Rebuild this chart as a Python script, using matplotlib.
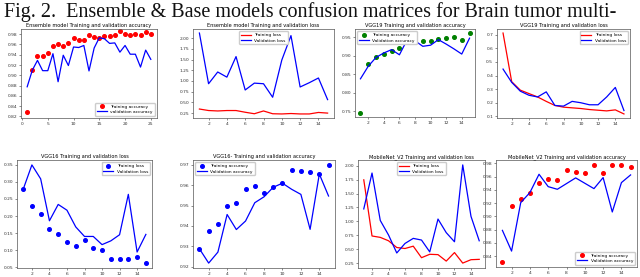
import numpy as np
import matplotlib
matplotlib.use("Agg")
import matplotlib.pyplot as plt

W, H = 640, 277

# ---------------- data ----------------
ens_train_acc = [0.8285, 0.9105, 0.938, 0.937, 0.943, 0.956, 0.961, 0.956, 0.963, 0.973,
                 0.968, 0.968, 0.979, 0.974, 0.973, 0.977, 0.977, 0.979, 0.986, 0.981,
                 0.979, 0.981, 0.979, 0.985, 0.981]
ens_val_acc = [0.8777, 0.910, 0.929, 0.909, 0.909, 0.942, 0.8875, 0.939, 0.919, 0.955,
               0.954, 0.958, 0.9085, 0.953, 0.973, 0.971, 0.962, 0.963, 0.945, 0.958,
               0.941, 0.941, 0.916, 0.949, 0.931]

ens_train_loss = [0.345, 0.31, 0.30, 0.31, 0.31, 0.27, 0.235, 0.30, 0.235, 0.23,
                  0.24, 0.23, 0.23, 0.265, 0.25]
ens_val_loss = [2.12, 0.936, 1.21, 1.09, 1.57, 0.79, 0.95, 0.936, 0.62, 1.49,
                2.06, 0.86, 0.96, 1.07, 0.565]

vgg19_train_acc = [0.7455, 0.879, 0.897, 0.905, 0.914, 0.921, 0.9365, 0.939, 0.939, 0.941,
                   0.9445, 0.948, 0.950, 0.944, 0.962]
vgg19_val_acc = [0.838, 0.872, 0.896, 0.908, 0.917, 0.903, 0.944, 0.941, 0.926, 0.929,
                 0.944, 0.932, 0.919, 0.905, 0.948]

vgg19_train_loss = [0.7125, 0.355, 0.2925, 0.2675, 0.2425, 0.21, 0.18, 0.1675, 0.1625, 0.1575,
                    0.15, 0.145, 0.14, 0.1475, 0.1175]
vgg19_val_loss = [0.4475, 0.35, 0.285, 0.255, 0.2425, 0.28, 0.18, 0.175, 0.21, 0.20,
                  0.185, 0.185, 0.2425, 0.3125, 0.1425]

vgg16_train_loss = [0.2784, 0.229, 0.2045, 0.163, 0.148, 0.124, 0.112, 0.131, 0.107, 0.101,
                    0.0746, 0.0746, 0.0726, 0.0795, 0.0618]
vgg16_val_loss = [0.278, 0.35, 0.309, 0.186, 0.234, 0.217, 0.168, 0.140, 0.140, 0.116,
                  0.127, 0.145, 0.2636, 0.0943, 0.146]

vgg16_train_acc = [0.9287, 0.9375, 0.9411, 0.9499, 0.9514, 0.958, 0.9598, 0.956, 0.959, 0.9609,
                   0.9675, 0.9672, 0.9664, 0.9654, 0.970]
vgg16_val_acc = [0.9287, 0.9217, 0.9271, 0.9456, 0.9382, 0.9424, 0.9514, 0.9543, 0.959, 0.961,
                 0.958, 0.9555, 0.9383, 0.9655, 0.9547]

mob_train_loss = [1.746, 0.737, 0.712, 0.651, 0.530, 0.512, 0.554, 0.347, 0.408, 0.402,
                  0.286, 0.439, 0.25, 0.311, 0.317]
mob_val_loss = [1.223, 1.868, 1.016, 0.755, 0.432, 0.603, 0.694, 0.664, 0.451, 1.041,
                0.797, 0.633, 2.014, 1.09, 0.651]

mob_train_acc = [0.8309, 0.9158, 0.9269, 0.936, 0.9501, 0.9562, 0.9547, 0.9698, 0.9673, 0.9663,
                 0.9779, 0.9663, 0.9779, 0.9774, 0.9754]
mob_val_acc = [0.8789, 0.8476, 0.9208, 0.936, 0.9637, 0.945, 0.941, 0.9496, 0.9582, 0.9501,
               0.942, 0.9587, 0.9067, 0.9511, 0.9627]

ens_acc_yticks = ["0.82", "0.84", "0.86", "0.88", "0.90", "0.92", "0.94", "0.96", "0.98"]
ens_loss_yticks = ["0.25", "0.50", "0.75", "1.00", "1.25", "1.50", "1.75", "2.00"]
vgg19_acc_yticks = ["0.75", "0.80", "0.85", "0.90", "0.95"]
vgg19_loss_yticks = ["0.1", "0.2", "0.3", "0.4", "0.5", "0.6", "0.7"]
vgg16_loss_yticks = ["0.05", "0.10", "0.15", "0.20", "0.25", "0.30", "0.35"]
vgg16_acc_yticks = ["0.92", "0.93", "0.94", "0.95", "0.96", "0.97"]
mob_loss_yticks = ["0.25", "0.50", "0.75", "1.00", "1.25", "1.50", "1.75", "2.00"]
mob_acc_yticks = ["0.84", "0.86", "0.88", "0.90", "0.92", "0.94", "0.96", "0.98"]

fig_title = "Fig. 2.  Ensemble & Base models confusion matrices for Brain tumor multi-"

# ---------------- figure ----------------
fig = plt.figure(figsize=(W / 100, H / 100), dpi=100)
fig.patch.set_facecolor("white")

fig.text(4 / W, 1 - 17 / H, fig_title, family="Liberation Serif", fontsize=14.5,
         va="baseline", ha="left", color="#111111")

TS = 3.2   # tick font
TT = 3.6   # title font
LS = 3.2   # legend font


def make_ax(x0, x1, y0, y1):
    ax = fig.add_axes([x0 / W, 1 - y1 / H, (x1 - x0) / W, (y1 - y0) / H])
    ax.tick_params(labelsize=TS, length=1.5, width=0.4, pad=1.2, colors="#333333")
    for s in ax.spines.values():
        s.set_linewidth(0.5)
        s.set_color("#555555")
    return ax


def finish(ax, title, ylabels, xticks=None):
    ax.set_title(title, fontsize=TT, pad=1.5)
    ax.set_yticks([float(t) for t in ylabels])
    ax.set_yticklabels(ylabels)
    if xticks is not None:
        ax.set_xticks(xticks)


def epochs(vals):
    return np.arange(1, len(vals) + 1)


lw = 0.9
ms = 2.6
leg_kw = dict(fontsize=LS, handlelength=2.2, borderpad=0.4, labelspacing=0.3,
              framealpha=1.0, edgecolor="#cccccc", fancybox=True)
even_ticks = [2, 4, 6, 8, 10, 12, 14]

# Row 1 ---------------------------------------------------
ax = make_ax(21, 157, 29, 118)
ax.plot(epochs(ens_train_acc), ens_train_acc, "o", color="red", ms=ms, label="Training accuracy")
ax.plot(epochs(ens_val_acc), ens_val_acc, "-", color="blue", lw=lw, label="validation accuracy")
finish(ax, "Ensemble model Training and validation accuracy", ens_acc_yticks, [0, 5, 10, 15, 20, 25])
ax.set_ylim(0.817, 0.990)
ax.legend(loc="lower right", **leg_kw)

ax = make_ax(193, 334, 29, 118)
ax.plot(epochs(ens_train_loss), ens_train_loss, "-", color="red", lw=lw, label="Training loss")
ax.plot(epochs(ens_val_loss), ens_val_loss, "-", color="blue", lw=lw, label="Validation loss")
finish(ax, "Ensemble model Training and validation loss", ens_loss_yticks, even_ticks)
ax.legend(loc="upper center", **leg_kw)

ax = make_ax(355, 475, 29, 117)
ax.plot(epochs(vgg19_train_acc), vgg19_train_acc, "o", color="green", ms=ms, label="Training accuracy")
ax.plot(epochs(vgg19_val_acc), vgg19_val_acc, "-", color="blue", lw=lw, label="Validation accuracy")
finish(ax, "VGG19 Training and validation accuracy", vgg19_acc_yticks, even_ticks)
ax.legend(loc="upper left", **leg_kw)

ax = make_ax(497, 630, 29, 118)
ax.plot(epochs(vgg19_train_loss), vgg19_train_loss, "-", color="red", lw=lw, label="Training loss")
ax.plot(epochs(vgg19_val_loss), vgg19_val_loss, "-", color="blue", lw=lw, label="Validation loss")
finish(ax, "VGG19 Training and validation loss", vgg19_loss_yticks, even_ticks)
ax.legend(loc="upper right", **leg_kw)

# Row 2 ---------------------------------------------------
ax = make_ax(17, 152, 160, 268)
ax.plot(epochs(vgg16_train_loss), vgg16_train_loss, "o", color="blue", ms=ms, label="Training loss")
ax.plot(epochs(vgg16_val_loss), vgg16_val_loss, "-", color="blue", lw=lw, label="Validation loss")
finish(ax, "VGG16 Training and validation loss", vgg16_loss_yticks, even_ticks)
ax.legend(loc="upper right", **leg_kw)

ax = make_ax(193, 335, 160, 268)
ax.plot(epochs(vgg16_train_acc), vgg16_train_acc, "o", color="blue", ms=ms, label="Training accuracy")
ax.plot(epochs(vgg16_val_acc), vgg16_val_acc, "-", color="blue", lw=lw, label="Validation accuracy")
finish(ax, "VGG16- Training and validation accuracy", vgg16_acc_yticks, even_ticks)
ax.legend(loc="upper left", **leg_kw)

ax = make_ax(358, 485, 160, 268)
ax.plot(epochs(mob_train_loss), mob_train_loss, "-", color="red", lw=lw, label="Training loss")
ax.plot(epochs(mob_val_loss), mob_val_loss, "-", color="blue", lw=lw, label="Validation loss")
finish(ax, "MobileNet_V2 Training and validation loss", mob_loss_yticks, even_ticks)
ax.legend(loc="upper center", **leg_kw)

ax = make_ax(496, 637, 160, 267)
ax.plot(epochs(mob_train_acc), mob_train_acc, "o", color="red", ms=ms, label="Training accuracy")
ax.plot(epochs(mob_val_acc), mob_val_acc, "-", color="blue", lw=lw, label="Validation accuracy")
finish(ax, "MobileNet_V2 Training and validation accuracy", mob_acc_yticks, even_ticks)
ax.legend(loc="lower right", **leg_kw)

fig.savefig("out.png", dpi=100)
